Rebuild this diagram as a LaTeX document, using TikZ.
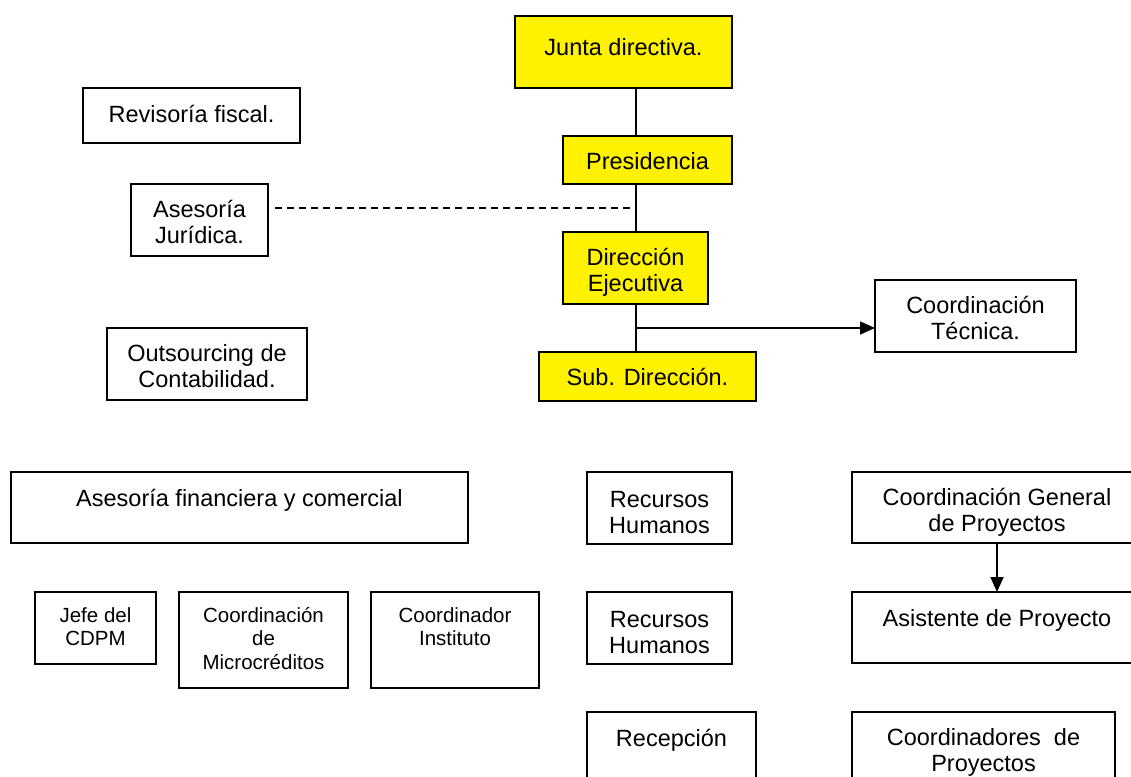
\documentclass[tikz,border=0pt]{standalone}
\usepackage{fontspec}
\setmainfont{Liberation Sans}
\usetikzlibrary{arrows.meta,positioning}
% text of a box: width, height, first baseline, lines
\newcommand{\boxtext}[4]{\parbox[t][#2][t]{#1}{\centering\rule{0pt}{#3}#4}}

\begin{document}
\begin{tikzpicture}[x=1pt,y=-1pt,
  orgbox/.style={draw,line width=1.1pt,inner sep=0pt,outer sep=0pt,anchor=north west,font=\fontsize{23.5}{26}\selectfont},
  mando/.style={orgbox,fill=yellow},
  small/.style={font=\fontsize{20.5}{23.5}\selectfont},
  link/.style={line width=1.1pt},
  flecha/.style={line width=1.6pt,-{Triangle[length=15pt,width=13pt]}}]
  \useasboundingbox (0,0) rectangle (1131,776);
  \coordinate (spine) at (636,0);

  % main line
  \node[mando] (junta) at (515,16) {\boxtext{217pt}{72pt}{40pt}{Junta directiva.}};
  \node[mando] (pres) at (563,136) {\boxtext{169pt}{48pt}{33pt}{Presidencia}};
  \node[mando] (direj) at (563,232) {\boxtext{145pt}{72pt}{33pt}{Direcci\'on\\Ejecutiva}};
  \node[mando] (subdir) at (539,352) {\boxtext{217pt}{49pt}{33pt}{Sub. Direcci\'on.}};

  % staff boxes
  \node[orgbox] (revis) at (83,88) {\boxtext{217pt}{55pt}{34pt}{Revisor\'ia fiscal.}};
  \node[orgbox] (jurid) at (131,184) {\boxtext{137pt}{72pt}{33pt}{Asesor\'ia\\Jur\'idica.}};
  \node[orgbox] (outs) at (107,328) {\boxtext{200pt}{72pt}{33pt}{Outsourcing de\\Contabilidad.}};
  \node[orgbox] (tecnica) at (875,280) {\boxtext{201pt}{72pt}{33pt}{Coordinaci\'on\\T\'ecnica.}};

  % left block
  \node[orgbox] (asfin) at (11,472) {\boxtext{457pt}{71pt}{34pt}{Asesor\'ia financiera y comercial}};
  \node[orgbox,small] (jefe) at (35,592) {\boxtext{121pt}{72pt}{30pt}{Jefe del\\CDPM}};
  \node[orgbox,small] (micro) at (179,592) {\boxtext{169pt}{96pt}{30pt}{Coordinaci\'on\\de\\Microcr\'editos}};
  \node[orgbox,small] (inst) at (371,592) {\boxtext{168pt}{96pt}{30pt}{Coordinador\\Instituto}};

  % middle block
  \node[orgbox] (rh1) at (587,472) {\boxtext{145pt}{72pt}{35pt}{Recursos\\Humanos}};
  \node[orgbox] (rh2) at (587,592) {\boxtext{145pt}{72pt}{35pt}{Recursos\\Humanos}};
  \node[orgbox] (recep) at (587,712) {\boxtext{169pt}{80pt}{34pt}{Recepci\'on}};

  % right block
  \node[orgbox] (cgp) at (852,472) {\boxtext{290pt}{71pt}{33pt}{Coordinaci\'on General\\de Proyectos}};
  \node[orgbox] (asis) at (852,592) {\boxtext{290pt}{71pt}{34pt}{Asistente de Proyecto}};
  \node[orgbox] (coordp) at (852,712) {\boxtext{263pt}{80pt}{33pt}{Coordinadores\ \ de\\Proyectos}};

  \draw[link] (junta.south -| spine) -- (pres.north -| spine);
  \draw[link] (pres.south -| spine) -- (direj.north -| spine);
  \draw[link] (direj.south -| spine) -- (subdir.north -| spine);
  \coordinate (jdash) at (275,208);
  \draw[link,dash pattern=on 7pt off 5pt] (jdash) -- (jdash -| spine);
  \coordinate (tee) at (636,328);
  \draw[flecha] (tee) -- (tee -| tecnica.west);
  \draw[flecha] (cgp.south) -- (asis.north);
\end{tikzpicture}
\end{document}
